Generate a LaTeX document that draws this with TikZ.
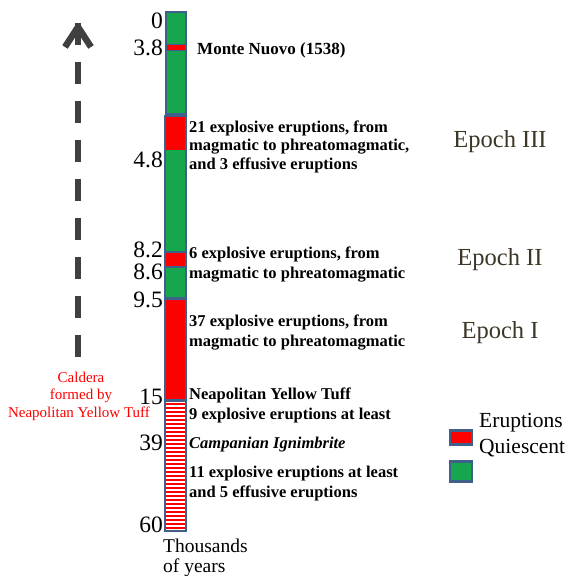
\documentclass[tikz,border=0pt]{standalone}
\usepackage{fontspec}
\setmainfont{Liberation Serif}
\definecolor{colgreen}{RGB}{22,166,78}
\definecolor{colred}{RGB}{255,0,0}
\definecolor{bordc}{RGB}{64,96,140}
\definecolor{epochc}{RGB}{60,54,38}
\definecolor{arrowc}{RGB}{64,64,64}
\begin{document}
\begin{tikzpicture}[x=1pt,y=-1pt,
  colbox/.style={draw=bordc, line width=2.4pt},
  num/.style={anchor=base east, inner sep=0pt, font=\fontsize{23.5}{23.5}\selectfont},
  note/.style={anchor=base west, inner sep=0pt, font=\bfseries\fontsize{16.5}{20}\selectfont},
  epoch/.style={anchor=base, inner sep=0pt, text=epochc, font=\fontsize{24.5}{24.5}\selectfont},
  legtext/.style={anchor=base west, inner sep=0pt, font=\fontsize{21.5}{21.5}\selectfont},
  caldera/.style={anchor=base, inner sep=0pt, text=colred, font=\fontsize{15}{15}\selectfont},
  axistext/.style={anchor=base west, inner sep=0pt, font=\fontsize{19.5}{19.5}\selectfont},
  legbox/.style={draw=bordc, line width=2.4pt, minimum width=22pt, inner sep=0pt}]
\useasboundingbox (0,0) rectangle (574,576);

% column
\path[colbox, fill=colgreen] (166,12) rectangle (186,114);
\path[fill=colred, draw=bordc, line width=1.4pt] (166.5,44.5) rectangle (185.5,50.5);
\path[colbox, fill=colgreen] (165,116) rectangle (186,298);
\fill[colred] (166.2,117.2) rectangle (184.8,150);
\path[fill=colred, draw=bordc, line width=2.4pt] (165,252) rectangle (186,267);
\path[colbox, fill=colred] (165,299) rectangle (186,400);
\path[colbox, fill=white] (165,401) rectangle (186,531);
\foreach \yy in {403.5,407.5,...,529} \draw[colred, line width=2pt] (166.3,\yy) -- (184.7,\yy);
\path[colbox] (165,401) rectangle (186,531);

% numbers
\node[num] (n0) at (163,28) {0};
\node[num] (n38) at (163,55) {3.8};
\node[num] (n48) at (163,167) {4.8};
\node[num] (n82) at (163,257.5) {8.2};
\node[num] (n86) at (163,279) {8.6};
\node[num] (n95) at (163,307) {9.5};
\node[num] (n15) at (163,404.5) {15};
\node[num] (n39) at (163,450) {39};
\node[num] (n60) at (163,532) {60};

% notes
\node[note, font=\bfseries\fontsize{17}{20}\selectfont] (t1) at (197,54) {Monte Nuovo (1538)};
\node[note] (t2a) at (189,132) {21 explosive eruptions, from};
\node[note] (t2b) at (189,150.5) {magmatic to phreatomagmatic,};
\node[note] (t2c) at (189,169) {and 3 effusive eruptions};
\node[note] (t3a) at (189,258) {6 explosive eruptions, from};
\node[note] (t3b) at (189,278) {magmatic to phreatomagmatic};
\node[note] (t4a) at (189,326) {37 explosive eruptions, from};
\node[note] (t4b) at (189,346) {magmatic to phreatomagmatic};
\node[note] (t5a) at (189,399) {Neapolitan Yellow Tuff};
\node[note] (t5b) at (189,419) {9 explosive eruptions at least};
\node[note] (t6) at (189,448) {\itshape Campanian Ignimbrite};
\node[note] (t7a) at (189,477) {11 explosive eruptions at least};
\node[note] (t7b) at (189,497) {and 5 effusive eruptions};

% epochs
\node[epoch] (e3) at (500,147) {Epoch III};
\node[epoch] (e2) at (500,265) {Epoch II};
\node[epoch] (e1) at (500,338) {Epoch I};

% legend
\node[legbox, fill=colred, minimum height=14pt] (lr) at (461,437.5) {};
\node[legbox, fill=colgreen, minimum height=20pt] (lg) at (461,471.5) {};
\node[legtext] (ler) at (479,427) {Eruptions};
\node[legtext] (leq) at (479,453) {Quiescent};

% arrow
\coordinate (abot) at (78,357);
\coordinate (atop) at (78,23);
\draw[arrowc, line width=6.5pt, dash pattern=on 22pt off 17pt] (abot) -- (atop);
\draw[arrowc, line width=6.5pt, line join=round] (65,47) -- (78,27) -- (91,47);

% caldera
\node[caldera] (c1) at (81,382) {Caldera};
\node[caldera] (c2) at (81,399.5) {formed by};
\node[caldera] (c3) at (79,417) {Neapolitan Yellow Tuff};

% axis label
\node[axistext] (ax1) at (163,552) {Thousands};
\node[axistext] (ax2) at (163,572) {of years};
\end{tikzpicture}
\end{document}
